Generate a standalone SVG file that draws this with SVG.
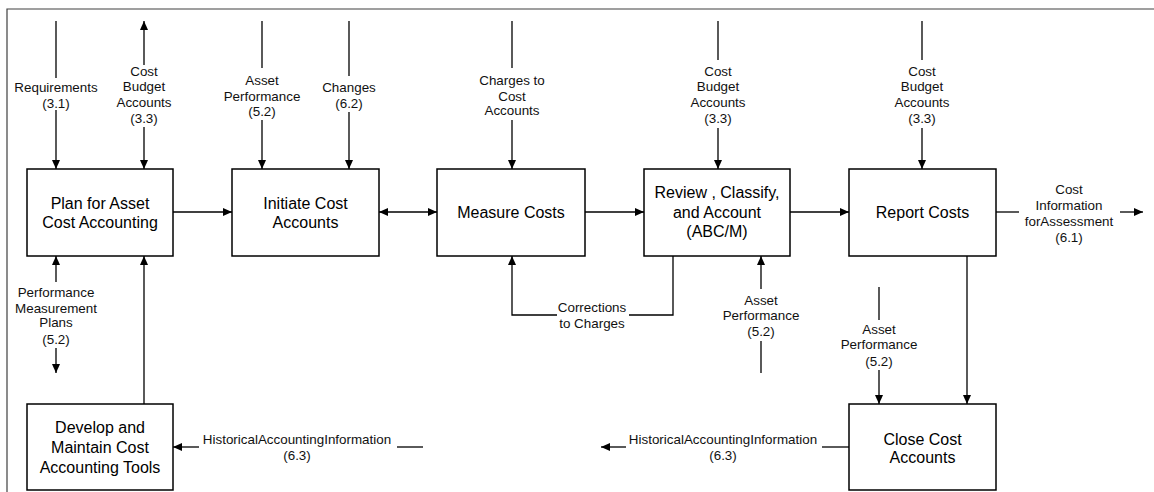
<svg xmlns="http://www.w3.org/2000/svg" width="1154" height="492" viewBox="0 0 1154 492">
  <style>
    .frame { fill: none; stroke: #404040; stroke-width: 1.2; }
    .box { fill: #ffffff; stroke: #000000; stroke-width: 1.5; }
    .conn { fill: none; stroke: #000000; stroke-width: 1.3; }
    .title { font-family: "Liberation Sans", Arial, sans-serif; font-size: 16px; fill: #000000; text-anchor: middle; }
    .lbl { font-family: "Liberation Sans", Arial, sans-serif; font-size: 13.4px; fill: #111111; text-anchor: middle; }
  </style>
  <defs>
    <marker id="arrow" markerUnits="userSpaceOnUse" markerWidth="9" markerHeight="8" refX="9" refY="4" orient="auto-start-reverse">
      <path d="M0,0 L9,4 L0,8 z" fill="#000000"/>
    </marker>
  </defs>

  <rect width="1154" height="492" fill="#ffffff"/>

  <!-- page frame (top and left edges) -->
  <path class="frame" d="M7,492 V9 H1154"/>

  <!-- connectors -->
  <g id="connectors">
    <!-- controls into Plan for Asset Cost Accounting -->
    <path class="conn" d="M56,21 V78"/>
    <path class="conn" d="M56,110 V169" marker-end="url(#arrow)"/>
    <path class="conn" d="M144,65 V21" marker-end="url(#arrow)"/>
    <path class="conn" d="M144,127 V169" marker-end="url(#arrow)"/>
    <!-- controls into Initiate Cost Accounts -->
    <path class="conn" d="M262,21 V68"/>
    <path class="conn" d="M262,120 V169" marker-end="url(#arrow)"/>
    <path class="conn" d="M349,21 V76"/>
    <path class="conn" d="M349,112 V169" marker-end="url(#arrow)"/>
    <!-- control into Measure Costs -->
    <path class="conn" d="M512,21 V68"/>
    <path class="conn" d="M512,120 V169" marker-end="url(#arrow)"/>
    <!-- control into Review, Classify, and Account -->
    <path class="conn" d="M718,21 V60"/>
    <path class="conn" d="M718,128 V169" marker-end="url(#arrow)"/>
    <!-- control into Report Costs -->
    <path class="conn" d="M922,21 V60"/>
    <path class="conn" d="M922,128 V169" marker-end="url(#arrow)"/>

    <!-- main flow -->
    <path class="conn" d="M173,212 H232" marker-end="url(#arrow)"/>
    <path class="conn" d="M379,212 H437" marker-start="url(#arrow)" marker-end="url(#arrow)"/>
    <path class="conn" d="M585,212 H644" marker-end="url(#arrow)"/>
    <path class="conn" d="M790,212 H849" marker-end="url(#arrow)"/>
    <path class="conn" d="M996,212 H1019"/>
    <path class="conn" d="M1120,212 H1143" marker-end="url(#arrow)"/>

    <!-- performance measurement plans -->
    <path class="conn" d="M56,282 V256" marker-end="url(#arrow)"/>
    <path class="conn" d="M56,348 V373" marker-end="url(#arrow)"/>
    <!-- tools back to planning -->
    <path class="conn" d="M144,404 V256" marker-end="url(#arrow)"/>

    <!-- corrections to charges loop -->
    <path class="conn" d="M673,256 V315 H629"/>
    <path class="conn" d="M557,315 H512 V256" marker-end="url(#arrow)"/>

    <!-- asset performance into Review -->
    <path class="conn" d="M761,289 V256" marker-end="url(#arrow)"/>
    <path class="conn" d="M761,341 V373"/>

    <!-- asset performance into Close Cost Accounts -->
    <path class="conn" d="M879,287 V320"/>
    <path class="conn" d="M879,370 V404" marker-end="url(#arrow)"/>
    <!-- Report Costs down to Close Cost Accounts -->
    <path class="conn" d="M967,256 V404" marker-end="url(#arrow)"/>

    <!-- historical accounting information -->
    <path class="conn" d="M849,447 H822"/>
    <path class="conn" d="M626,447 H601" marker-end="url(#arrow)"/>
    <path class="conn" d="M423,447 H397"/>
    <path class="conn" d="M199,447 H173" marker-end="url(#arrow)"/>
  </g>

  <!-- connector labels -->
  <g id="labels">
    <text class="lbl" x="56" y="91.5">Requirements</text>
    <text class="lbl" x="56" y="107.5">(3.1)</text>

    <text class="lbl" x="144" y="75.5">Cost</text>
    <text class="lbl" x="144" y="91">Budget</text>
    <text class="lbl" x="144" y="106.5">Accounts</text>
    <text class="lbl" x="144" y="122.5">(3.3)</text>

    <text class="lbl" x="262" y="84.5">Asset</text>
    <text class="lbl" x="262" y="100.5">Performance</text>
    <text class="lbl" x="262" y="115.5">(5.2)</text>

    <text class="lbl" x="349" y="91.5">Changes</text>
    <text class="lbl" x="349" y="107.5">(6.2)</text>

    <text class="lbl" x="512" y="84.5">Charges to</text>
    <text class="lbl" x="512" y="100.5">Cost</text>
    <text class="lbl" x="512" y="114.5">Accounts</text>

    <text class="lbl" x="718" y="75.5">Cost</text>
    <text class="lbl" x="718" y="91">Budget</text>
    <text class="lbl" x="718" y="106.5">Accounts</text>
    <text class="lbl" x="718" y="122.5">(3.3)</text>

    <text class="lbl" x="922" y="75.5">Cost</text>
    <text class="lbl" x="922" y="91">Budget</text>
    <text class="lbl" x="922" y="106.5">Accounts</text>
    <text class="lbl" x="922" y="122.5">(3.3)</text>

    <text class="lbl" x="1069" y="193.5">Cost</text>
    <text class="lbl" x="1069" y="209.5">Information</text>
    <text class="lbl" x="1069" y="225.5">forAssessment</text>
    <text class="lbl" x="1069" y="241.5">(6.1)</text>

    <text class="lbl" x="56" y="296.5">Performance</text>
    <text class="lbl" x="56" y="312.5">Measurement</text>
    <text class="lbl" x="56" y="326.5">Plans</text>
    <text class="lbl" x="56" y="343.5">(5.2)</text>

    <text class="lbl" x="592" y="311.5">Corrections</text>
    <text class="lbl" x="592" y="327.5">to Charges</text>

    <text class="lbl" x="761" y="304.5">Asset</text>
    <text class="lbl" x="761" y="319.5">Performance</text>
    <text class="lbl" x="761" y="335.5">(5.2)</text>

    <text class="lbl" x="879" y="333.5">Asset</text>
    <text class="lbl" x="879" y="348.5">Performance</text>
    <text class="lbl" x="879" y="365.5">(5.2)</text>

    <text class="lbl" x="723" y="443.5">HistoricalAccountingInformation</text>
    <text class="lbl" x="723" y="460">(6.3)</text>

    <text class="lbl" x="297" y="443.5">HistoricalAccountingInformation</text>
    <text class="lbl" x="297" y="460">(6.3)</text>
  </g>

  <!-- activity boxes -->
  <g id="plan-asset-cost-accounting">
    <rect class="box" x="27" y="169" width="146" height="87"/>
    <text class="title" x="100" y="209">Plan for Asset</text>
    <text class="title" x="100" y="228">Cost Accounting</text>
  </g>
  <g id="initiate-cost-accounts">
    <rect class="box" x="232" y="169" width="147" height="87"/>
    <text class="title" x="305.5" y="209">Initiate Cost</text>
    <text class="title" x="305.5" y="228">Accounts</text>
  </g>
  <g id="measure-costs">
    <rect class="box" x="437" y="169" width="148" height="87"/>
    <text class="title" x="511" y="218">Measure Costs</text>
  </g>
  <g id="review-classify-account">
    <rect class="box" x="644" y="169" width="146" height="87"/>
    <text class="title" x="717" y="198">Review , Classify,</text>
    <text class="title" x="717" y="218">and Account</text>
    <text class="title" x="717" y="237">(ABC/M)</text>
  </g>
  <g id="report-costs">
    <rect class="box" x="849" y="169" width="147" height="87"/>
    <text class="title" x="922.5" y="218">Report Costs</text>
  </g>
  <g id="develop-maintain-tools">
    <rect class="box" x="27" y="404" width="146" height="86"/>
    <text class="title" x="100" y="433">Develop and</text>
    <text class="title" x="100" y="453">Maintain Cost</text>
    <text class="title" x="100" y="473">Accounting Tools</text>
  </g>
  <g id="close-cost-accounts">
    <rect class="box" x="849" y="404" width="147" height="86"/>
    <text class="title" x="922.5" y="445">Close Cost</text>
    <text class="title" x="922.5" y="463">Accounts</text>
  </g>
</svg>
